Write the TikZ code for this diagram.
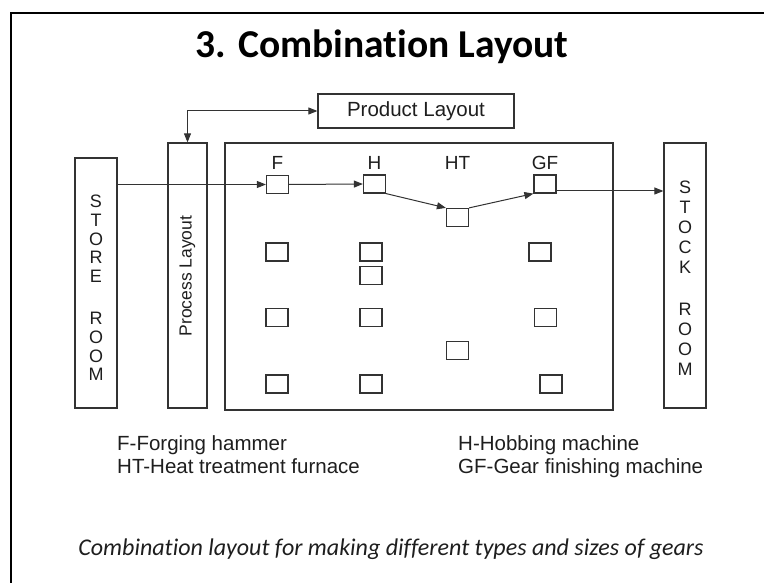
\documentclass[tikz,border=0pt]{standalone}
\usepackage{fontspec}
\setmainfont{Liberation Sans}
\newfontfamily\calib[Ligatures={NoCommon}]{Carlito}
\usetikzlibrary{arrows.meta}
\definecolor{ln}{HTML}{333333}
\definecolor{txt}{HTML}{1E1E1E}
\begin{document}
\begin{tikzpicture}[x=1pt,y=-1pt,
  box/.style={draw=ln, line width=1.2pt, inner sep=0pt},
  mach/.style={draw=ln, line width=1.2pt, minimum width=22pt, minimum height=18pt, inner sep=0pt},
  arr/.style={draw=ln, line width=1pt, -{Triangle[length=9pt,width=7pt]}},
  lbl/.style={font=\fontsize{20.5}{24}\selectfont, text=txt, inner sep=0pt},
  mlbl/.style={font=\fontsize{19}{22}\selectfont, text=txt, inner sep=0pt},
  vlet/.style={font=\fontsize{18}{18.5}\selectfont, text=txt, align=center}]
\useasboundingbox (0,0) rectangle (764,583);
% outer frame
\draw[line width=2pt, black] (11,583) -- (11,13) -- (764,13);
% title
\node[anchor=base, font=\calib\bfseries\fontsize{39.5}{44}\selectfont, inner sep=0pt] (title) at (382,58) {3. Combination Layout};
% big boxes
\node[box, minimum width=42pt, minimum height=250pt] (store) at (96,283) {};
\node[vlet, inner sep=0pt, font=\fontsize{18}{18.6}\selectfont] (storetext) at (96,288) {S\\T\\O\\R\\E\\[24pt]R\\O\\O\\M};
\node[box, minimum width=39pt, minimum height=265pt] (process) at (187.5,275.5) {};
\node[rotate=90, font=\fontsize{17.5}{20}\selectfont, text=txt, inner sep=0pt] (proctext) at (187.5,276) {Process Layout};
\node[box, minimum width=196pt, minimum height=34pt, lbl] (product) at (416,111) {Product Layout};
\node[box, minimum width=388pt, minimum height=267pt] (main) at (419,276.5) {};
\node[box, minimum width=42pt, minimum height=265pt] (stock) at (685,275.5) {};
\node[vlet, inner sep=0pt, font=\fontsize{18}{20}\selectfont] (stocktext) at (685,278) {S\\T\\O\\C\\K\\[22pt]R\\O\\O\\M};
% machines on the product line
\node[mach] (F) at (277.5,184.5) {};
\node[mach] (H) at (374.5,184) {};
\node[mach] (HT) at (457.5,217.5) {};
\node[mach] (GF) at (545,184) {};
\node[mlbl] (lF) at (277.5,163) {F};
\node[mlbl] (lH) at (374.5,163) {H};
\node[mlbl] (lHT) at (457.5,163) {HT};
\node[mlbl] (lGF) at (545,163) {GF};
% other machines
\node[mach] (m1) at (277,252) {};
\node[mach] (m2) at (371,252) {};
\node[mach] (m3) at (540,252) {};
\node[mach] (m4) at (371,275.5) {};
\node[mach] (m5) at (277,317.5) {};
\node[mach] (m6) at (371,317.5) {};
\node[mach] (m7) at (545.5,317.5) {};
\node[mach] (m8) at (457.5,350.5) {};
\node[mach] (m9) at (277,384) {};
\node[mach] (m10) at (371,384) {};
\node[mach] (m11) at (551,384) {};
% connectors
\draw[arr, {Triangle[length=9pt,width=7pt]}-{Triangle[length=9pt,width=7pt]}] (process.north) |- (product.west);
\draw[arr] (store.east |- F.west) -- (F.west);
\draw[arr] (F.east) -- (H.west);
\draw[arr] (H.south east) -- (HT.north west);
\draw[arr] (HT.north east) -- (GF.south west);
\draw[arr] ([yshift=-7pt]GF.east) -- ([yshift=-7pt]GF.east -| stock.west);
% legend
\node[lbl, anchor=base west] (leg1) at (117,450) {F-Forging hammer};
\node[lbl, anchor=base west] (leg2) at (117,473) {HT-Heat treatment furnace};
\node[lbl, anchor=base west] (leg3) at (458,450) {H-Hobbing machine};
\node[lbl, anchor=base west] (leg4) at (458,473) {GF-Gear finishing machine};
% caption
\node[anchor=base, font=\calib\itshape\fontsize{24}{28}\selectfont, text=txt, inner sep=0pt] (caption) at (391,555) {Combination layout for making different types and sizes of gears};
\end{tikzpicture}
\end{document}
